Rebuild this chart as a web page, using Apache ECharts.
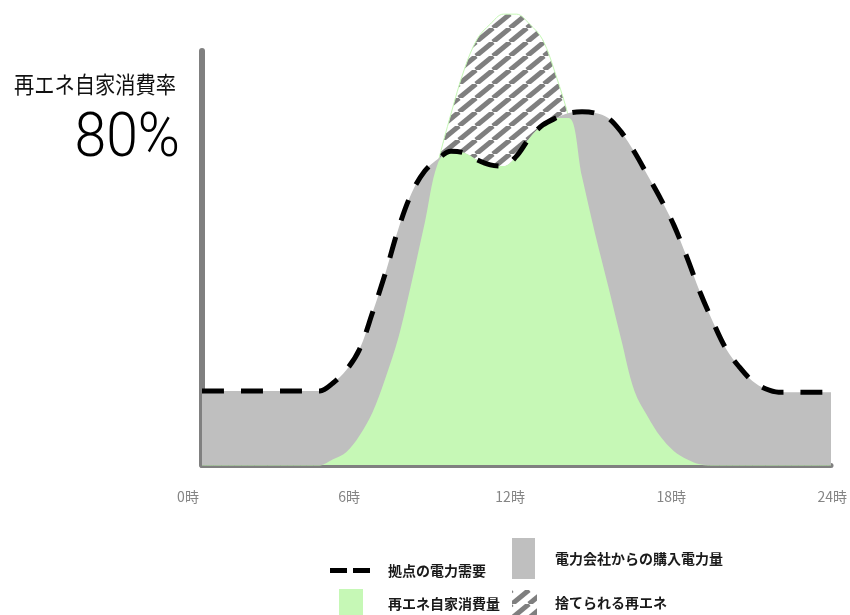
<!DOCTYPE html>
<html>
<head>
<meta charset="utf-8">
<script src="https://cdn.jsdelivr.net/npm/echarts@6/dist/echarts.min.js"></script>
<style>
html,body{margin:0;padding:0;background:#fff;}
#chart{width:850px;height:615px;}
</style>
</head>
<body>
<div id="chart"></div>
<script>
// ---- data ----
const hours = [0,0.5,1,1.5,2,2.5,3,3.5,4,4.5,5,5.5,6,6.5,7,7.5,8,8.5,9,9.5,10,10.5,11,11.5,12,12.5,13,13.5,14,14.5,15,15.5,16,16.5,17,17.5,18,18.5,19,19.5,20,20.5,21,21.5,22,22.5,23,23.5,24];
const demand = [17.9,17.9,17.9,17.9,17.9,17.9,17.9,17.9,17.9,17.9,
  19.8,22.9,27.8,36.7,46.4,57.2,65.7,71.0,73.9,75.8,75.4,73.7,72.5,72.2,74.6,79.0,82.1,83.8,85.0,85.3,85.0,83.8,80.4,75.6,70.0,64.3,58.0,50.2,41.8,34.5,28.0,23.7,20.3,18.4,17.6,
  17.6,17.6,17.6,17.6];
const solar = [0,0,0,0,0,0,0,0,0,0,
  1.4,3.1,7.0,12.6,21.0,30.9,44.2,58.5,72.9,84.8,95.4,102.9,106.5,108.9,108.9,106.5,102.7,94.2,83.8,69.6,55.8,43.2,30.2,17.9,11.8,6.8,3.4,1.4,0.2,
  0,0,0,0,0,0,0,0,0,0];
const hourTicks = [0,6,12,18,24];
const names = ['拠点の電力需要','電力会社からの購入電力量','再エネ自家消費量','捨てられる再エネ'];
const rateLabel = '再エネ自家消費率';
const rateValue = '80%';

// ---- hatch pattern ----
function makeHatch(){
  const w = 17, h = 14;
  const c = document.createElement('canvas');
  c.width = w; c.height = h;
  const g = c.getContext('2d');
  g.fillStyle = '#ffffff';
  g.fillRect(0,0,w,h);
  g.strokeStyle = '#7f7f7f';
  g.lineWidth = 5;
  [-w,0,w].forEach(function(dx){
    g.beginPath();
    g.moveTo(dx, h);
    g.lineTo(dx + w, 0);
    g.stroke();
  });
  return {image: c, repeat: 'repeat'};
}
const hatch = makeHatch();

const demandPts = hours.map((x,i)=>[x, demand[i]]);
const solarPts = hours.map((x,i)=>[x, solar[i]]);
const usedPts = hours.map((x,i)=>[x, Math.min(solar[i], demand[i])]);

const chart = echarts.init(document.getElementById('chart'), null, {renderer:'canvas'});
const cjk = '"Noto Sans CJK JP", "Noto Sans", sans-serif';
const legendText = function(pad){
  return {fontFamily: cjk, fontSize: 14, fontWeight: 'bold', color: '#1a1a1a', lineHeight: 20, padding: pad};
};
const SM = 0.35;
const option = {
  animation: false,
  backgroundColor: '#ffffff',
  grid: [
    {left: 202, right: 19, top: 51, bottom: 150},
    {left: 188, right: 11, top: 51, bottom: 150}
  ],
  xAxis: [
    {type: 'value', gridIndex: 0, min: 0, max: 24, interval: 6, offset: 3,
     axisLine: {show: true, lineStyle: {color: '#808080', width: 5}},
     axisTick: {show: false}, axisLabel: {show: false}, splitLine: {show: false}},
    {type: 'value', gridIndex: 1, min: hourTicks[0], max: hourTicks[hourTicks.length-1], interval: 6,
     axisLine: {show: false}, axisTick: {show: false}, splitLine: {show: false},
     axisLabel: {formatter: '{value}時', color: '#858585', fontSize: 14, margin: 25,
                 fontFamily: '"Liberation Sans Narrow", "Noto Sans CJK JP", sans-serif'}}
  ],
  yAxis: [
    {type: 'value', gridIndex: 0, min: 0, max: 100, offset: 3,
     axisLine: {show: true, lineStyle: {color: '#808080', width: 6}},
     axisTick: {show: false}, axisLabel: {show: false}, splitLine: {show: false}},
    {type: 'value', gridIndex: 1, min: 0, max: 100, show: false}
  ],
  legend: [
    {selectedMode: false, left: 330, top: 558, padding: 0, itemWidth: 40, itemHeight: 5,
     icon: 'path://M0,0H17V5H0Z M23,0H40V5H23Z', data: [names[0]],
     itemStyle: {color: '#000000', borderWidth: 0}, textStyle: legendText([5,0,0,13])},
    {selectedMode: false, left: 512, top: 538, padding: 0, itemWidth: 23, itemHeight: 41,
     icon: 'rect', data: [names[1]],
     itemStyle: {color: '#bfbfbf', borderWidth: 0}, textStyle: legendText([9,0,0,15])},
    {selectedMode: false, left: 339, top: 589, padding: 0, itemWidth: 24, itemHeight: 30,
     icon: 'rect', data: [names[2]],
     itemStyle: {color: '#c6f8b6', borderWidth: 0}, textStyle: legendText([2,0,0,20])},
    {selectedMode: false, left: 512, top: 588, padding: 0, itemWidth: 25, itemHeight: 25,
     icon: 'rect', data: [names[3]],
     itemStyle: {color: hatch, borderWidth: 0}, textStyle: legendText([9,0,0,13])}
  ],
  graphic: [
    {type: 'text', x: 176, y: 73, scaleX: 0.88, z: 10,
     style: {text: rateLabel, fill: '#111111', font: '23px ' + cjk, align: 'right', verticalAlign: 'top'}},
    {type: 'text', x: 180, y: 140, scaleX: 0.92, z: 10,
     style: {text: rateValue, fill: '#000000', font: '300 62px Roboto, Lato, sans-serif', align: 'right', verticalAlign: 'middle'}}
  ],
  series: [
    {name: names[3], type: 'line', data: solarPts, smooth: SM, symbol: 'none', clip: false, z: 1,
     color: '#7f7f7f',
     lineStyle: {width: 1, color: '#c6f8b6'}, areaStyle: {color: hatch, opacity: 1}},
    {name: names[1], type: 'line', data: demandPts, smooth: SM, symbol: 'none', z: 2,
     color: '#bfbfbf',
     lineStyle: {width: 0}, areaStyle: {color: '#bfbfbf', opacity: 1}},
    {name: names[2], type: 'line', data: usedPts, smooth: SM, symbol: 'none', z: 3,
     color: '#c6f8b6',
     lineStyle: {width: 0}, areaStyle: {color: '#c6f8b6', opacity: 1}},
    {name: names[0], type: 'line', data: demandPts, smooth: SM, symbol: 'none', z: 4,
     color: '#000000',
     lineStyle: {width: 5, color: '#000000', type: [22,17], cap: 'butt'}}
  ]
};
chart.setOption(option);
</script>
</body>
</html>
